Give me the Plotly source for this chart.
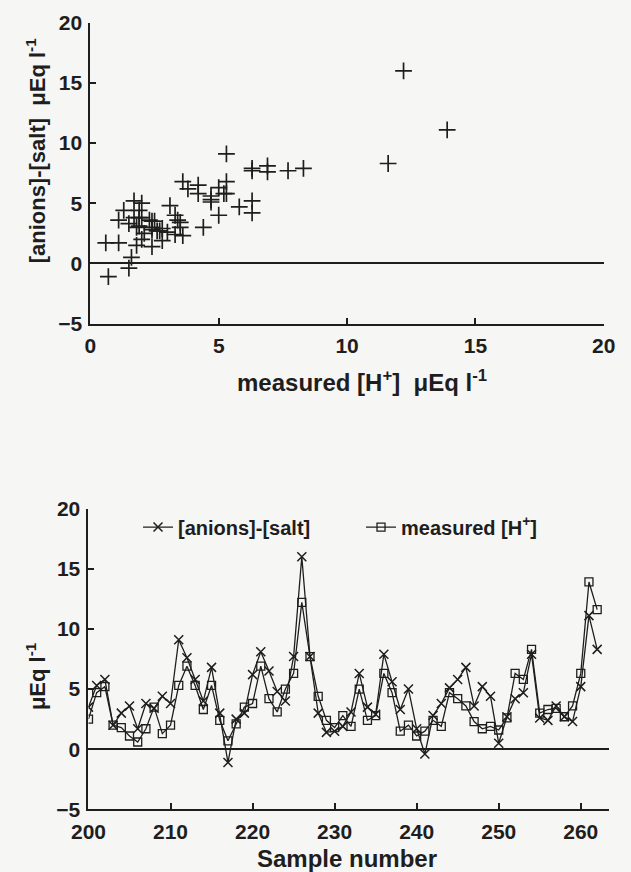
import plotly.graph_objects as go

# ---- data ----
samples = list(range(200, 263))
anions_salt = [3.5, 5.3, 5.8, 2.0, 3.0, 3.6, 1.7, 3.8, 3.4, 4.4,
               3.8, 9.1, 7.6, 5.8, 4.0, 6.8, 3.0, -1.1, 2.5, 3.0,
               6.2, 8.1, 6.5, 4.8, 4.0, 7.7, 16.0, 7.7, 3.0, 1.4,
               1.5, 1.9, 3.1, 6.3, 3.5, 2.9, 7.9, 5.6, 3.3, 5.0,
               1.7, -0.4, 2.8, 3.8, 5.1, 5.8, 6.8, 3.6, 5.2, 4.4,
               0.5, 2.7, 4.2, 4.7, 7.9, 2.6, 2.4, 3.6, 2.7, 2.3,
               5.2, 11.1, 8.3]
measured_h = [2.5, 4.7, 5.2, 2.0, 1.8, 1.1, 0.6, 1.7, 3.5, 1.3,
              2.0, 5.3, 6.9, 5.3, 3.3, 5.3, 2.4, 0.7, 2.1, 3.5,
              3.8, 6.9, 4.2, 3.1, 5.0, 6.3, 12.2, 7.7, 4.4, 2.4,
              1.8, 2.8, 1.9, 5.0, 2.4, 2.8, 6.3, 4.7, 1.5, 2.0,
              1.1, 1.5, 2.4, 1.9, 4.7, 4.2, 3.6, 2.3, 1.7, 1.9,
              1.6, 2.6, 6.3, 5.8, 8.3, 3.0, 3.3, 3.4, 2.7, 3.6,
              6.3, 13.9, 11.6]

top_x_ticks = [0, 5, 10, 15, 20]
y_ticks = [-5, 0, 5, 10, 15, 20]
bottom_x_ticks = [200, 210, 220, 230, 240, 250, 260]

W, H = 631, 872
INK = "#1e1e1e"
FONT = "Liberation Sans"

def px_x(p):
    return p / W

def px_y(p):
    return 1 - p / H

fig = go.Figure()

# top scatter
fig.add_trace(go.Scatter(
    x=measured_h, y=anions_salt, mode="markers", showlegend=False,
    xaxis="x", yaxis="y",
    marker=dict(symbol="cross-thin", size=12, color=INK,
                line=dict(width=1.7, color=INK)),
))

# bottom series
fig.add_trace(go.Scatter(
    x=samples, y=anions_salt, mode="lines+markers", name="[anions]-[salt]",
    xaxis="x2", yaxis="y2",
    line=dict(color=INK, width=1.3),
    marker=dict(symbol="x-thin", size=9, color=INK,
                line=dict(width=1.5, color=INK)),
))
fig.add_trace(go.Scatter(
    x=samples, y=measured_h, mode="lines+markers", name="measured [H<sup>+</sup>]",
    xaxis="x2", yaxis="y2",
    line=dict(color=INK, width=1.3),
    marker=dict(symbol="square-open", size=8, color=INK,
                line=dict(width=1.3, color=INK)),
))

tickfont = dict(family=FONT, size=21, color=INK, weight="bold")
axis_common = dict(showline=True, linecolor=INK, linewidth=2, ticks="inside",
                   ticklen=6, tickwidth=1.5, tickcolor=INK, showgrid=False,
                   tickfont=tickfont, mirror=False)

fig.update_layout(
    width=W, height=H,
    margin=dict(l=0, r=0, t=0, b=0),
    paper_bgcolor="#f6f6f4", plot_bgcolor="rgba(0,0,0,0)",
    xaxis=dict(domain=[px_x(76), px_x(615)], range=[0, 20], tickvals=top_x_ticks,
               anchor="y", zeroline=False, ticklabelstandoff=2, **axis_common),
    yaxis=dict(domain=[px_y(320), px_y(11)], range=[-5, 20], tickvals=y_ticks,
               anchor="x", zeroline=True, zerolinecolor=INK, zerolinewidth=1.6,
               ticklabelstandoff=2, **axis_common),
    xaxis2=dict(domain=[px_x(74), px_x(621)], range=[200, 263.5],
                tickvals=bottom_x_ticks, anchor="y2", zeroline=False,
                ticklabelstandoff=2, **axis_common),
    yaxis2=dict(domain=[px_y(819), px_y(510)], range=[-5, 20], tickvals=y_ticks,
                anchor="x2", zeroline=True, zerolinecolor=INK, zerolinewidth=1.6,
                ticklabelstandoff=2, **axis_common),
    legend=dict(orientation="h", x=px_x(126), xanchor="left",
                y=px_y(529), yanchor="middle", bgcolor="rgba(0,0,0,0)",
                font=dict(family=FONT, size=20, color=INK, weight="bold"),
                entrywidth=178, entrywidthmode="pixels", tracegroupgap=0),
    showlegend=True,
)

title_font = dict(family=FONT, size=24, color=INK, weight="bold")
ytitle_font = dict(family=FONT, size=22, color=INK, weight="bold")
fig.add_annotation(text="measured [H<sup>+</sup>]  μEq l<sup>-1</sup>",
                   xref="paper", yref="paper", x=px_x(361), y=px_y(379),
                   showarrow=False, font=title_font, xanchor="center", yanchor="middle")
fig.add_annotation(text="[anions]-[salt]  μEq l<sup>-1</sup>",
                   xref="paper", yref="paper", x=px_x(19), y=px_y(142),
                   showarrow=False, font=ytitle_font,
                   textangle=-90, xanchor="center", yanchor="middle")
fig.add_annotation(text="μEq l<sup>-1</sup>",
                   xref="paper", yref="paper", x=px_x(19), y=px_y(682),
                   showarrow=False, font=ytitle_font,
                   textangle=-90, xanchor="center", yanchor="middle")
fig.add_annotation(text="Sample number",
                   xref="paper", yref="paper", x=px_x(345), y=px_y(869),
                   showarrow=False, font=title_font, xanchor="center", yanchor="middle")

fig.write_html("out.html", config={"displayModeBar": False},
               post_script="document.body.style.margin='0';"
                           "document.body.style.overflow='hidden';")
